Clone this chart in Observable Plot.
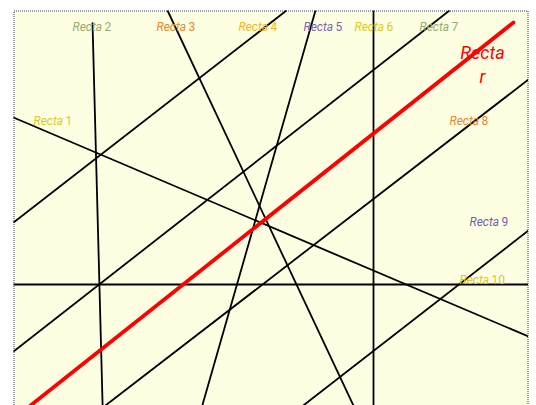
<!DOCTYPE html>
<html>
<head>
<meta charset="utf-8">
<script src="https://cdn.jsdelivr.net/npm/d3@7"></script>
<script src="https://cdn.jsdelivr.net/npm/@observablehq/plot@0.6"></script>
<style>
  html, body { margin: 0; padding: 0; background: #ffffff; overflow: hidden; }
</style>
</head>
<body>
<div id="chart"></div>
<script>
// Line segments (data coordinates)
const lineNames = ["1", "2", "3", "4", "5", "6", "7", "8", "9", "10"];
const lineX1 = [0.00, 1.58, 3.08, 5.46, 6.04, 7.20, 8.72, 10.30, 10.30, 0.00];
const lineY1 = [6.06, 7.96, 8.20, 8.20, 8.20, 8.20, 8.20, 6.82, 3.80, 2.72];
const lineX2 = [10.30, 1.79, 6.94, 0.00, 3.69, 7.20, 0.00, 1.45, 5.41, 10.30];
const lineY2 = [1.68, 0.00, 0.00, 3.96, 0.00, 0.00, 1.38, 0.00, 0.00, 2.72];

// Red line "Recta r"
const redX = [10.00, 0.00];
const redY = [7.96, 0.03];

// Labels
const labelText = ["Recta 1", "Recta 2", "Recta 3", "Recta 4", "Recta 5", "Recta 6", "Recta 7", "Recta 8", "Recta 9", "Recta 10"];
const labelX = [0.40, 1.18, 2.86, 4.50, 5.80, 6.82, 8.12, 8.72, 9.12, 8.92];
const labelY = [5.98, 7.86, 7.86, 7.86, 7.86, 7.86, 7.86, 5.98, 3.96, 2.80];
const labelColor = ["#dccb1e", "#9bab6c", "#e8892c", "#f4b51f", "#7a66ad", "#d9cb1c", "#9bab6c", "#e3892f", "#7262aa", "#d6c91c"];

const redLabel = "Recta\nr";
const redLabelX = 9.38;
const redLabelY = 7.14;

const segments = lineNames.map((n, i) => ({name: n, x1: lineX1[i], y1: lineY1[i], x2: lineX2[i], y2: lineY2[i]}));
const labels = labelText.map((t, i) => ({text: t, x: labelX[i], y: labelY[i], color: labelColor[i]}));

const chart = Plot.plot({
  width: 536,
  height: 420,
  marginLeft: 13,
  marginRight: 8,
  marginTop: 10,
  marginBottom: 0,
  style: {background: "#ffffff", overflow: "visible"},
  x: {domain: [0, 10.3], axis: null},
  y: {domain: [0, 8.2], axis: null},
  marks: [
    Plot.frame({fill: "#fefee3", stroke: null}),
    Plot.link(segments, {x1: "x1", y1: "y1", x2: "x2", y2: "y2", stroke: "#000000", strokeWidth: 1.8, clip: true}),
    Plot.line(redX.map((x, i) => ({x, y: redY[i]})), {x: "x", y: "y", stroke: "#ff0000", strokeWidth: 3.8, clip: true}),
    Plot.text(labels, {x: "x", y: "y", text: "text", fill: d => d.color, textAnchor: "start", fontSize: 12, fontWeight: 400, fontFamily: "Roboto"}),
    Plot.text([{x: redLabelX, y: redLabelY}], {x: "x", y: "y", text: () => redLabel, fill: "#ff0000", fontSize: 18, fontWeight: 400, fontStyle: "italic", fontFamily: "Roboto", lineHeight: 1.35, textAnchor: "middle"}),
    Plot.frame({stroke: "#2e3e62", strokeWidth: 1, strokeDasharray: "1,1", inset: 0.5})
  ]
});

// Italic "Recta", upright number
d3.select(chart).selectAll("text").each(function() {
  const t = this.textContent;
  const m = /^Recta (\d+)$/.exec(t);
  if (m) {
    const sel = d3.select(this);
    sel.text(null);
    sel.append("tspan").attr("font-style", "italic").text("Recta");
    sel.append("tspan").text("\u2009" + m[1]);
  }
});

document.getElementById("chart").appendChild(chart);
</script>
</body>
</html>
